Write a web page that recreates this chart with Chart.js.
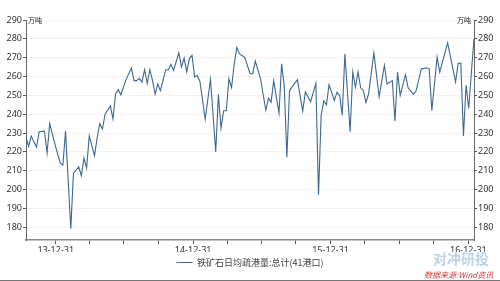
<!DOCTYPE html>
<html>
<head>
<meta charset="utf-8">
<script src="https://cdn.jsdelivr.net/npm/chart.js@4.4.1/dist/chart.umd.min.js"></script>
<style>
  html, body { margin: 0; padding: 0; background: #fff; }
  #wrap { position: relative; width: 500px; height: 281px; }
</style>
</head>
<body>
<div id="wrap"><canvas id="chart" width="500" height="281"></canvas></div>
<script>
// weekly observations, week number counted from the first week shown
var startDate = '2013-10-13';
var weeks = [
  0, 1, 2, 4, 5, 7, 8, 9, 11, 13,
  14, 15, 17, 18, 20, 21, 22, 23, 24, 26,
  27, 28, 29, 30, 32, 33, 34, 35, 36, 38,
  40, 41, 42, 43, 44, 45, 46, 47, 48, 49,
  50, 51, 53, 54, 55, 56, 58, 59, 60, 61,
  62, 63, 64, 65, 66, 68, 70, 72, 73, 74,
  75, 76, 77, 78, 79, 80, 81, 83, 85, 86,
  87, 89, 91, 92, 93, 94, 96, 97, 98, 99,
  100, 102, 103, 105, 106, 108, 110, 111, 112, 113,
  114, 115, 117, 118, 119, 120, 121, 123, 124, 125,
  126, 127, 128, 129, 130, 132, 134, 136, 137, 139,
  140, 141, 142, 144, 145, 147, 148, 150, 152, 153,
  154, 156, 157, 159, 160, 163, 164, 165, 166, 167,
  168, 169, 170
];
var values = [
  227.5, 223, 228.4, 222.5, 230.7, 231, 219.4, 235, 224, 214,
  213, 231, 179.2, 208.7, 212, 207.3, 216.7, 211.4, 228.4, 218,
  227.5, 235, 232, 240, 244.4, 237.5, 250.7, 253, 250.3, 258.5,
  264.5, 257.8, 257.8, 259, 257, 263.6, 256.4, 263.6, 258, 250.7,
  256, 252.5, 263.6, 263.6, 266.5, 263.2, 272.6, 265, 269.8, 262.5,
  269.5, 271.2, 259.8, 260.5, 257.4, 237.3, 258.5, 220, 250.5, 232.6,
  241.8, 241.8, 258.8, 254.1, 266.5, 275.4, 272, 270.2, 261.6, 261.4,
  268.2, 258.8, 242.1, 248.5, 246.4, 257.8, 240.6, 266.7, 255, 217.1,
  252.5, 256.5, 258.2, 241.6, 251.8, 246.6, 256.4, 197.1, 239.5, 247.1,
  244.9, 255.7, 247.3, 251.6, 250, 239.5, 272, 230.7, 262.5, 254.3,
  262.5, 254, 252.6, 246.2, 250.7, 272.5, 249.3, 265.9, 256, 257.8,
  236.4, 262.3, 250, 261, 254, 250.5, 252.3, 264, 264.6, 264.1,
  241.8, 270.3, 262.3, 272.7, 277.8, 257.2, 267, 267.1, 228.4, 255.5,
  243, 262, 280
];
var lastWeek = 170;
var seriesName = '铁矿石日均疏港量:总计(41港口)';
var unitLabel = '万吨';

var yearTicks = ['2013-12-31', '2014-12-31', '2015-12-31', '2016-12-31'];
var yearTickLabels = ['13-12-31', '14-12-31', '15-12-31', '16-12-31'];
var quarterTicks = ['2014-03-31', '2014-06-30', '2014-09-30',
                    '2015-03-31', '2015-06-30', '2015-09-30',
                    '2016-03-31', '2016-06-30', '2016-09-30'];
var yTicks = [180, 190, 200, 210, 220, 230, 240, 250, 260, 270, 280, 290];

var DAY = 86400000;
var t0 = Date.parse(startDate);
var points = weeks.map(function(w, i) {
  return { x: t0 + w * 7 * DAY, y: values[i] };
});

var yearMs = yearTicks.map(function(d) { return Date.parse(d); });
var allXTicks = yearMs.concat(quarterTicks.map(function(d) { return Date.parse(d); }))
  .sort(function(a, b) { return a - b; });

var lineColor = '#3d6892';
var tickFont = { family: '"Noto Sans", "DejaVu Sans", sans-serif', size: 9 };

function yAxis(pos) {
  return {
    type: 'linear',
    position: pos,
    min: 173.2,
    max: 290,
    afterBuildTicks: function(scale) {
      scale.ticks = yTicks.map(function(v) { return { value: v }; });
    },
    afterFit: function(scale) { scale.width = 26; },
    grid: {
      display: true,
      drawOnChartArea: pos === 'left',
      color: '#f7eeee',
      lineWidth: 1,
      tickColor: '#555',
      tickLength: 3
    },
    border: { display: true, color: '#666', width: 1 },
    ticks: { font: tickFont, color: '#333', padding: 1 }
  };
}

// unit labels, watermark text and frame line
var extras = {
  id: 'extras',
  afterDraw: function(chart) {
    var ctx = chart.ctx, a = chart.chartArea;
    ctx.save();
    ctx.font = '7px "Noto Sans CJK SC", sans-serif';
    ctx.fillStyle = '#222';
    ctx.textBaseline = 'middle';
    ctx.textAlign = 'left';
    ctx.fillText(unitLabel, a.left + 2, a.top);
    ctx.textAlign = 'right';
    ctx.fillText(unitLabel, a.right - 3, a.top);

    ctx.font = 'bold 14px "Noto Sans CJK SC", sans-serif';
    ctx.fillStyle = 'rgba(120,170,215,0.5)';
    ctx.textAlign = 'left';
    ctx.fillText('对冲研投', 433, 259);
    ctx.font = 'italic 8px "Noto Sans CJK SC", sans-serif';
    ctx.fillStyle = '#d23a3a';
    ctx.fillText('数据来源:Wind资讯', 424, 275);

    ctx.strokeStyle = '#777';
    ctx.lineWidth = 1;
    ctx.beginPath();
    ctx.moveTo(0, 280.5);
    ctx.lineTo(500, 280.5);
    ctx.stroke();
    ctx.restore();
  }
};

new Chart(document.getElementById('chart').getContext('2d'), {
  type: 'line',
  data: {
    datasets: [{
      label: seriesName,
      data: points,
      borderColor: lineColor,
      backgroundColor: lineColor,
      borderWidth: 1.1,
      pointRadius: 0,
      tension: 0
    }]
  },
  options: {
    responsive: false,
    animation: false,
    layout: { padding: { top: 20, bottom: 4, left: 0, right: 0 } },
    plugins: {
      legend: {
        position: 'bottom',
        labels: {
          boxWidth: 16,
          boxHeight: 0,
          padding: 6,
          color: '#444',
          font: { family: '"Noto Sans CJK SC", sans-serif', size: 9 }
        }
      },
      tooltip: { enabled: false }
    },
    scales: {
      x: {
        type: 'linear',
        min: t0,
        max: t0 + lastWeek * 7 * DAY,
        afterBuildTicks: function(scale) {
          scale.ticks = allXTicks.map(function(v) { return { value: v }; });
        },
        afterFit: function(scale) { scale.height = 12; },
        grid: {
          display: true,
          drawOnChartArea: false,
          tickColor: '#555',
          tickLength: 4
        },
        border: { display: true, color: '#888', width: 1.5 },
        ticks: {
          font: tickFont,
          color: '#333',
          padding: 1,
          maxRotation: 0,
          autoSkip: false,
          callback: function(v) {
            var k = yearMs.indexOf(v);
            return k >= 0 ? yearTickLabels[k] : '';
          }
        }
      },
      y: yAxis('left'),
      y2: yAxis('right')
    }
  },
  plugins: [extras]
});
</script>
</body>
</html>
